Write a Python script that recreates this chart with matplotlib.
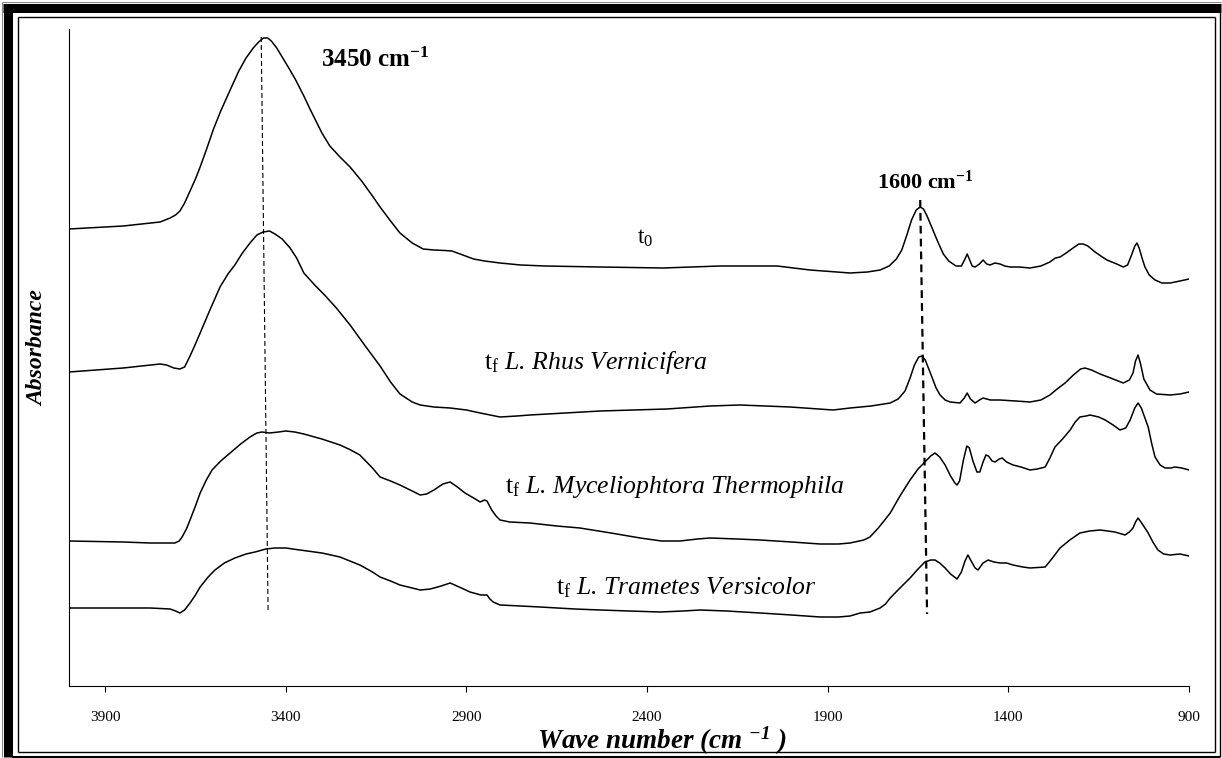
import matplotlib.pyplot as plt
from matplotlib.lines import Line2D

plt.rcParams['font.family'] = 'Liberation Serif'
plt.rcParams['mathtext.fontset'] = 'custom'
plt.rcParams['mathtext.rm'] = 'Liberation Serif'
plt.rcParams['mathtext.it'] = 'Liberation Serif:italic'
plt.rcParams['mathtext.bf'] = 'Liberation Serif:bold'
plt.rcParams['mathtext.bfit'] = 'Liberation Serif:italic:bold'

# FTIR spectra, wavenumber (cm-1) vs absorbance (arbitrary units, offset)
wn_t0 = [4000, 3850, 3748, 3720, 3705, 3693, 3680, 3665, 3650, 3637, 3620, 3600, 3580,
         3554, 3530, 3510, 3490, 3475, 3462, 3450, 3440, 3425, 3410, 3390, 3374, 3350,
         3333, 3300, 3278, 3250, 3222, 3190, 3160, 3139, 3110, 3084, 3050, 3020, 2990,
         2960, 2940, 2910, 2880, 2850, 2807, 2750, 2682, 2530, 2356, 2198, 2040, 1949,
         1838, 1790, 1755, 1730, 1710, 1695, 1680, 1668, 1655, 1644, 1635, 1625, 1610,
         1595, 1580, 1565, 1545, 1530, 1520, 1514, 1507, 1500, 1492, 1480, 1470, 1460,
         1451, 1437, 1423, 1410, 1395, 1370, 1340, 1310, 1285, 1270, 1257, 1240, 1221,
         1205, 1193, 1180, 1160, 1140, 1127, 1100, 1082, 1070, 1060, 1050, 1044, 1038,
         1030, 1022, 1010, 994, 975, 952, 925, 900]
abs_t0 = [4.57, 4.60, 4.64, 4.68, 4.71, 4.75, 4.83, 4.95, 5.07, 5.19, 5.36, 5.57, 5.75,
          5.96, 6.15, 6.28, 6.38, 6.44, 6.48, 6.48, 6.45, 6.38, 6.29, 6.17, 6.07, 5.90,
          5.77, 5.53, 5.40, 5.29, 5.19, 5.05, 4.90, 4.79, 4.65, 4.53, 4.43, 4.37, 4.36,
          4.355, 4.35, 4.31, 4.27, 4.25, 4.23, 4.21, 4.20, 4.19, 4.18, 4.20, 4.20, 4.16,
          4.13, 4.14, 4.16, 4.20, 4.27, 4.36, 4.52, 4.66, 4.76, 4.79, 4.77, 4.70, 4.57,
          4.44, 4.32, 4.25, 4.20, 4.20, 4.27, 4.32, 4.26, 4.20, 4.19, 4.22, 4.26, 4.22,
          4.21, 4.23, 4.22, 4.20, 4.19, 4.19, 4.18, 4.20, 4.24, 4.28, 4.29, 4.33, 4.38,
          4.42, 4.42, 4.40, 4.34, 4.29, 4.26, 4.22, 4.19, 4.21, 4.30, 4.40, 4.43, 4.38,
          4.28, 4.19, 4.11, 4.06, 4.03, 4.03, 4.05, 4.07]

wn_rhus = [4000, 3850, 3748, 3730, 3710, 3693, 3680, 3665, 3650, 3637, 3610, 3582, 3560,
           3541, 3520, 3499, 3480, 3463, 3445, 3430, 3410, 3388, 3370, 3350, 3320, 3290,
           3260, 3222, 3180, 3139, 3110, 3084, 3050, 3028, 2990, 2945, 2900, 2862, 2807,
           2760, 2724, 2530, 2345, 2226, 2143, 2004, 1885, 1838, 1780, 1727, 1705, 1686,
           1672, 1660, 1648, 1639, 1630, 1617, 1600, 1589, 1575, 1561, 1534, 1522, 1514,
           1505, 1492, 1480, 1470, 1450, 1423, 1380, 1340, 1310, 1285, 1265, 1243, 1220,
           1200, 1188, 1170, 1146, 1110, 1082, 1065, 1055, 1048, 1041, 1034, 1025, 1008,
           990, 952, 925, 900]
abs_rhus = [3.14, 3.18, 3.22, 3.21, 3.18, 3.17, 3.19, 3.30, 3.42, 3.53, 3.76, 3.99, 4.12,
            4.21, 4.33, 4.43, 4.51, 4.54, 4.55, 4.52, 4.47, 4.38, 4.28, 4.13, 4.01, 3.90,
            3.78, 3.61, 3.40, 3.20, 3.04, 2.92, 2.84, 2.81, 2.79, 2.78, 2.76, 2.73, 2.69,
            2.70, 2.71, 2.75, 2.77, 2.80, 2.81, 2.79, 2.76, 2.78, 2.80, 2.83, 2.87, 2.95,
            3.08, 3.21, 3.29, 3.30, 3.26, 3.14, 2.98, 2.91, 2.86, 2.84, 2.83, 2.88, 2.93,
            2.87, 2.83, 2.86, 2.88, 2.86, 2.86, 2.85, 2.84, 2.86, 2.91, 2.97, 3.03, 3.11,
            3.17, 3.18, 3.16, 3.12, 3.07, 3.03, 3.06, 3.13, 3.25, 3.31, 3.22, 3.07, 2.96,
            2.92, 2.91, 2.92, 2.94]

wn_myc = [4000, 3850, 3776, 3707, 3695, 3687, 3675, 3665, 3650, 3637, 3620, 3604, 3580,
          3554, 3525, 3499, 3480, 3466, 3445, 3420, 3400, 3375, 3350, 3300, 3250, 3220,
          3195, 3160, 3139, 3110, 3084, 3050, 3028, 3010, 2990, 2965, 2945, 2925, 2904,
          2880, 2862, 2850, 2843, 2830, 2818, 2807, 2780, 2724, 2650, 2586, 2500, 2419,
          2360, 2309, 2260, 2226, 2150, 2087, 2000, 1921, 1870, 1838, 1800, 1783, 1760,
          1740, 1727, 1700, 1672, 1650, 1631, 1615, 1603, 1590, 1575, 1560, 1548, 1542,
          1535, 1525, 1515, 1508, 1498, 1487, 1479, 1470, 1462, 1455, 1445, 1437, 1425,
          1417, 1405, 1387, 1365, 1340, 1320, 1298, 1285, 1271, 1250, 1229, 1215, 1202,
          1185, 1174, 1150, 1132, 1110, 1091, 1075, 1063, 1050, 1041, 1032, 1020, 1013,
          1003, 994, 980, 966, 950, 939, 920, 900]
abs_myc = [1.45, 1.44, 1.43, 1.43, 1.45, 1.49, 1.57, 1.66, 1.80, 1.93, 2.06, 2.16, 2.25,
           2.33, 2.42, 2.49, 2.53, 2.54, 2.53, 2.54, 2.55, 2.54, 2.52, 2.47, 2.41, 2.36,
           2.31, 2.18, 2.09, 2.05, 2.01, 1.95, 1.91, 1.92, 1.96, 2.02, 2.04, 1.99, 1.93,
           1.88, 1.84, 1.86, 1.85, 1.76, 1.70, 1.66, 1.64, 1.63, 1.60, 1.58, 1.53, 1.48,
           1.45, 1.45, 1.47, 1.48, 1.47, 1.46, 1.44, 1.42, 1.42, 1.43, 1.46, 1.49, 1.58,
           1.67, 1.73, 1.90, 2.06, 2.17, 2.24, 2.30, 2.33, 2.29, 2.21, 2.10, 2.03, 2.01,
           2.05, 2.25, 2.40, 2.38, 2.25, 2.14, 2.14, 2.24, 2.31, 2.30, 2.25, 2.24, 2.27,
           2.28, 2.24, 2.21, 2.19, 2.16, 2.17, 2.19, 2.28, 2.39, 2.47, 2.56, 2.64, 2.69,
           2.70, 2.71, 2.69, 2.66, 2.61, 2.56, 2.58, 2.66, 2.78, 2.83, 2.78, 2.66, 2.59,
           2.42, 2.29, 2.21, 2.18, 2.18, 2.19, 2.18, 2.16]

wn_tram = [4000, 3850, 3776, 3720, 3705, 3693, 3680, 3665, 3650, 3637, 3615, 3596, 3570,
           3541, 3510, 3485, 3455, 3430, 3400, 3361, 3300, 3250, 3195, 3160, 3139, 3110,
           3084, 3050, 3028, 3000, 2970, 2945, 2920, 2890, 2860, 2843, 2835, 2826, 2807,
           2750, 2696, 2600, 2530, 2450, 2364, 2300, 2253, 2180, 2087, 2000, 1921, 1870,
           1838, 1810, 1783, 1755, 1740, 1727, 1700, 1672, 1650, 1631, 1615, 1603, 1590,
           1575, 1560, 1542, 1530, 1520, 1512, 1503, 1492, 1484, 1470, 1456, 1440, 1423,
           1405, 1387, 1360, 1340, 1298, 1280, 1257, 1230, 1202, 1175, 1146, 1125, 1105,
           1077, 1065, 1055, 1048, 1041, 1033, 1022, 1013, 1000, 986, 970, 952, 925, 900]
abs_tram = [0.78, 0.78, 0.78, 0.77, 0.75, 0.73, 0.76, 0.83, 0.91, 0.99, 1.09, 1.16, 1.23,
            1.28, 1.32, 1.34, 1.37, 1.38, 1.38, 1.36, 1.33, 1.29, 1.21, 1.14, 1.09, 1.05,
            1.01, 0.98, 0.96, 0.97, 1.00, 1.03, 0.99, 0.94, 0.91, 0.91, 0.87, 0.84, 0.81,
            0.80, 0.79, 0.77, 0.76, 0.75, 0.74, 0.75, 0.76, 0.75, 0.73, 0.71, 0.69, 0.69,
            0.70, 0.73, 0.74, 0.78, 0.82, 0.88, 0.98, 1.08, 1.17, 1.24, 1.26, 1.26, 1.23,
            1.18, 1.12, 1.07, 1.14, 1.25, 1.31, 1.25, 1.18, 1.16, 1.23, 1.26, 1.24, 1.23,
            1.23, 1.21, 1.19, 1.18, 1.19, 1.27, 1.38, 1.46, 1.53, 1.55, 1.56, 1.55, 1.54,
            1.51, 1.54, 1.58, 1.64, 1.68, 1.64, 1.58, 1.53, 1.44, 1.36, 1.32, 1.31, 1.32, 1.30]

xticks = [3900, 3400, 2900, 2400, 1900, 1400, 900]

# guide lines for the two bands
band_3450_x = [3468, 3449]
band_3450_y = [6.49, 0.76]
band_1600_x = [1644, 1625]
band_1600_y = [4.86, 0.72]

W, H = 1222, 758
fig = plt.figure(figsize=(W / 100, H / 100), dpi=100)
ax = fig.add_axes([69 / W, 1 - 686 / H, 1120 / W, 657 / H])

for wn, a in [(wn_t0, abs_t0), (wn_rhus, abs_rhus), (wn_myc, abs_myc), (wn_tram, abs_tram)]:
    ax.plot(wn, a, color='black', lw=1.1, solid_joinstyle='round')

ax.plot(band_3450_x, band_3450_y, color='black', lw=0.8, ls=(0, (4.5, 2.7)))
ax.plot(band_1600_x, band_1600_y, color='black', lw=1.6, ls=(0, (3.5, 2.3)))

ax.set_xlim(4000, 900)
ax.set_ylim(0, 6.57)
ax.set_xticks(xticks)
ax.set_yticks([])
ax.spines['top'].set_visible(False)
ax.spines['right'].set_visible(False)
ax.spines['left'].set_linewidth(0.8)
ax.spines['bottom'].set_linewidth(0.8)
ax.tick_params(axis='x', direction='out', length=4, width=0.8, labelsize=11, pad=14)

ax.set_xlabel(r'Wave number (cm $^{\mathbfit{-1}}$ )', fontsize=19.5,
              fontweight='bold', style='italic', va='center')
ax.xaxis.set_label_coords(0.529, -0.083)
ax.set_ylabel('Absorbance', fontsize=17, fontweight='bold', style='italic', va='center')
ax.yaxis.set_label_coords(-0.028, 0.514)

# band and spectrum labels
ax.text(3153, 6.26, r'3450 cm$^{\mathbf{-1}}$', fontsize=18, fontweight='bold',
        ha='center', va='center')
ax.text(1631, 5.04, r'1600 cm$^{\mathbf{-1}}$', fontsize=16, fontweight='bold',
        ha='center', va='center')
ax.text(2406, 4.48, r'$\mathrm{t}_0$', fontsize=17, ha='center', va='center')
ax.text(2541, 3.24, r'$\mathrm{t}_\mathrm{f}$ L. Rhus Vernicifera',
        fontsize=18.5, style='italic', ha='center', va='center')
ax.text(2323, 1.99, r'$\mathrm{t}_\mathrm{f}$ L. Myceliophtora Thermophila',
        fontsize=18.5, style='italic', ha='center', va='center')
ax.text(2292, 0.98, r'$\mathrm{t}_\mathrm{f}$ L. Trametes Versicolor',
        fontsize=18.5, style='italic', ha='center', va='center')


# page border: heavy rule top/left, thin double rule inside
def px_line(x0, y0, x1, y1, lw, color='black'):
    fig.add_artist(Line2D([x0 / W, x1 / W], [1 - y0 / H, 1 - y1 / H], lw=lw,
                          color=color, transform=fig.transFigure, solid_capstyle='butt'))


px_line(2, 2, 2, 757, 0.8, '#888888')
px_line(2, 2, 1221, 2, 0.8, '#888888')
px_line(8, 8, 8, 757, 6.5)
px_line(3, 8, 1221, 8, 6.5)
px_line(18, 17, 18, 752, 1.0)
px_line(18, 17, 1215, 17, 1.0)
px_line(1215, 17, 1215, 752, 1.0)
px_line(18, 752, 1215, 752, 1.0)
px_line(1220, 12, 1220, 757, 1.0)
px_line(12, 756.5, 1220, 756.5, 1.5)

fig.savefig('out.png', dpi=100)
